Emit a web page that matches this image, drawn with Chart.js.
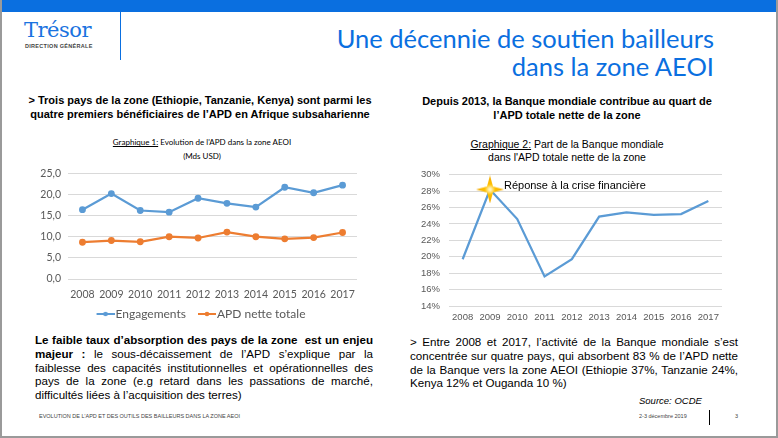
<!DOCTYPE html>
<html lang="fr">
<head>
<meta charset="utf-8">
<script src="https://cdn.jsdelivr.net/npm/chart.js@4.4.1/dist/chart.umd.min.js"></script>
<style>
  html, body { margin: 0; padding: 0; background: #ffffff; }
  #slide { position: relative; width: 778px; height: 438px; overflow: hidden; background: #fff;
           box-sizing: border-box; border: 2px solid #9a9a9a; border-top: none; font-family: "Liberation Sans", Arial, sans-serif; }
  .abs { position: absolute; }
  #topbar { left: 0; top: 0; width: 778px; height: 12px; background: #0a6fe0; }
  #logo { left: 22px; top: 18px; font-family: "DejaVu Serif", serif; font-size: 21px; color: #1a73e0; letter-spacing: -0.5px; }
  #logoSub { left: 23px; top: 43px; font-size: 5.5px; font-weight: bold; color: #444; letter-spacing: 0.3px; }
  #logoLine { left: 118px; top: 12px; width: 1px; height: 48px; background: #0a6fe0; }
  #title { right: 62px; top: 24px; font-family: Lato, sans-serif; font-size: 25.5px; line-height: 28px; color: #0a6fe0; text-align: right; }
  .head { font-weight: bold; font-size: 11px; line-height: 14px; text-align: center; color: #000; }
  .cap { font-size: 10.5px; line-height: 12.5px; text-align: center; color: #000; }
  .cap u { text-decoration: underline; }
  .body { font-size: 11.6px; line-height: 13.8px; text-align: justify; color: #000; }
  .tiny { font-size: 5.5px; color: #444; }
  canvas { position: absolute; }
</style>
</head>
<body>
<div id="slide">
  <div id="topbar" class="abs"></div>
  <div id="logo" class="abs">Trésor</div>
  <div id="logoSub" class="abs">DIRECTION GÉNÉRALE</div>
  <div id="logoLine" class="abs"></div>
  <div id="title" class="abs">Une décennie de soutien bailleurs<br>dans la zone AEOI</div>

  <div class="abs head" style="left:16px; top:93px; width:364px;">&gt; Trois pays de la zone (Ethiopie, Tanzanie, Kenya) sont parmi les<br>quatre premiers bénéficiaires de l’APD en Afrique subsaharienne</div>
  <div class="abs cap" style="left:18px; top:135px; width:364px; font-family: Lato, sans-serif; font-size:8px; line-height:14px;"><u>Graphique 1:</u> Evolution de l'APD dans la zone AEOI<br>(Mds USD)</div>

  <div class="abs head" style="left:388px; top:94px; width:354px;">Depuis 2013, la Banque mondiale contribue au quart de<br>l’APD totale nette de la zone</div>
  <div class="abs cap" style="left:388px; top:138px; width:354px;"><u>Graphique 2:</u> Part de la Banque mondiale<br>dans l'APD totale nette de la zone</div>

  <canvas id="chart1" width="350" height="170" style="left:20px; top:160px;"></canvas>
  <canvas id="chart2" width="340" height="170" style="left:400px; top:160px;"></canvas>

  <div class="abs body" style="left:33px; top:333px; width:338px;"><b>Le faible taux d’absorption des pays de la zone&nbsp; est un enjeu majeur :</b> le sous-décaissement de l’APD s’explique par la faiblesse des capacités institutionnelles et opérationnelles des pays de la zone (e.g retard dans les passations de marché, difficultés liées à l’acquisition des terres)</div>
  <div class="abs body" style="left:408px; top:335px; width:328px;">&gt; Entre 2008 et 2017, l’activité de la Banque mondiale s’est concentrée sur quatre pays, qui absorbent 83 % de l’APD nette de la Banque vers la zone AEOI (Ethiopie 37%, Tanzanie 24%, Kenya 12% et Ouganda 10 %)</div>
  <div class="abs" style="left:637px; top:395px; font-size:9.5px; font-style:italic;">Source: OCDE</div>

  <div class="abs tiny" style="left:37px; top:413px;">EVOLUTION DE L’APD ET DES OUTILS DES BAILLEURS DANS LA ZONE AEOI</div>
  <div class="abs tiny" style="left:637px; top:413px;">2-3 décembre 2019</div>
  <div class="abs" style="left:707px; top:410px; width:1px; height:15px; background:#000;"></div>
  <div class="abs tiny" style="left:733px; top:413px;">3</div>
</div>

<script>
// Donnees du graphique 1 (Mds USD)
const years = ["2008", "2009", "2010", "2011", "2012", "2013", "2014", "2015", "2016", "2017"];
const engagements = [16.4, 20.2, 16.2, 15.8, 19.1, 17.9, 17.0, 21.7, 20.4, 22.2];
const apdNette = [8.7, 9.1, 8.8, 10.0, 9.7, 11.1, 10.0, 9.5, 9.8, 11.0];

// Donnees du graphique 2 (% de l'APD totale nette)
const partBanque = [19.7, 28.2, 24.6, 17.6, 19.7, 24.9, 25.4, 25.1, 25.2, 26.8];
const crisisYear = "2009";
const crisisLabel = "Réponse à la crise financière";

const BLUE = "#5b9bd5";
const ORANGE = "#ed7d31";
const GRID = "#d9d9d9";
const TICK = "#595959";

// Symbole de legende: trait avec un point au milieu
// (dessine a droite de l'image pour coller le texte au symbole)
function legendSymbol(color) {
    const c = document.createElement("canvas");
    c.width = 28; c.height = 6;
    const ctx = c.getContext("2d");
    ctx.strokeStyle = color; ctx.lineWidth = 2;
    ctx.beginPath(); ctx.moveTo(10, 3); ctx.lineTo(28, 3); ctx.stroke();
    ctx.fillStyle = color;
    ctx.beginPath(); ctx.arc(19, 3, 2.3, 0, Math.PI * 2); ctx.fill();
    return c;
}

// Etoile a quatre branches pour l'annotation
function starSymbol() {
    const c = document.createElement("canvas");
    c.width = 28; c.height = 28;
    const ctx = c.getContext("2d");
    const g = ctx.createRadialGradient(14, 14, 1, 14, 14, 13);
    g.addColorStop(0, "#fff5c0");
    g.addColorStop(0.35, "#ffc000");
    g.addColorStop(1, "#f2a900");
    ctx.fillStyle = g;
    ctx.beginPath();
    const pts = [[14, 0], [17, 11], [28, 14], [17, 17], [14, 28], [11, 17], [0, 14], [11, 11]];
    pts.forEach((p, i) => i ? ctx.lineTo(p[0], p[1]) : ctx.moveTo(p[0], p[1]));
    ctx.closePath(); ctx.fill();
    return c;
}

const commaFmt = v => v.toFixed(1).replace(".", ",");

new Chart(document.getElementById("chart1"), {
    type: "line",
    data: {
        labels: years,
        datasets: [
            { label: "Engagements", data: engagements, borderColor: BLUE, backgroundColor: BLUE,
              borderWidth: 2.25, pointRadius: 2.3, pointHoverRadius: 2.3, pointStyle: "circle", tension: 0 },
            { label: "APD nette totale", data: apdNette, borderColor: ORANGE, backgroundColor: ORANGE,
              borderWidth: 2.25, pointRadius: 2.3, pointHoverRadius: 2.3, pointStyle: "circle", tension: 0 }
        ]
    },
    options: {
        responsive: false, animation: false,
        layout: { padding: { top: 8, right: 15, left: 18, bottom: 0 } },
        plugins: {
            tooltip: { enabled: false },
            legend: {
                position: "bottom",
                labels: {
                    usePointStyle: true, pointStyleWidth: 18, boxHeight: 6, color: TICK, padding: 7,
                    font: { family: "Lato", size: 12 },
                    generateLabels: chart => chart.data.datasets.map((ds, i) => ({
                        text: ds.label, pointStyle: legendSymbol(ds.borderColor), fontColor: TICK,
                        strokeStyle: ds.borderColor, fillStyle: ds.borderColor, lineWidth: 0, datasetIndex: i
                    }))
                }
            }
        },
        scales: {
            x: {
                offset: true,
                grid: { display: false, drawTicks: false, tickLength: 0 },
                border: { display: false },
                ticks: { color: TICK, font: { family: "Lato", size: 10.5 }, padding: 9,
                         maxRotation: 0, autoSkip: false },
                afterFit: s => { s.height = 22; }
            },
            y: {
                min: 0, max: 25,
                grid: { color: GRID, drawTicks: false },
                border: { display: false },
                ticks: { stepSize: 5, color: TICK, font: { family: "Lato", size: 10.5 }, padding: 7,
                         callback: v => commaFmt(v) },
                afterFit: s => { s.width = 28; }
            }
        }
    }
});

// Texte de l'annotation a cote de l'etoile
const crisisText = {
    id: "crisisText",
    afterDatasetsDraw(chart) {
        const x = chart.scales.x.getPixelForValue(years.indexOf(crisisYear));
        const y = chart.scales.y.getPixelForValue(partBanque[years.indexOf(crisisYear)]);
        const ctx = chart.ctx;
        ctx.save();
        ctx.font = "11px 'Liberation Sans', Arial";
        ctx.fillStyle = "#000";
        ctx.textBaseline = "middle";
        ctx.fillText(crisisLabel, x + 14, y - 4);
        ctx.restore();
    }
};

new Chart(document.getElementById("chart2"), {
    type: "line",
    data: {
        labels: years,
        datasets: [
            { data: years.map((y, i) => y === crisisYear ? partBanque[i] : null),
              pointStyle: starSymbol(), pointRadius: 14, showLine: false, borderWidth: 0 },
            { data: partBanque, borderColor: BLUE, borderWidth: 2.25, pointRadius: 0, tension: 0 }
        ]
    },
    plugins: [crisisText],
    options: {
        responsive: false, animation: false,
        layout: { padding: { top: 10, right: 20, left: 0, bottom: 0 } },
        plugins: { legend: { display: false }, tooltip: { enabled: false } },
        scales: {
            x: {
                offset: true,
                grid: { display: false, drawTicks: false, tickLength: 0 },
                border: { display: false },
                ticks: { color: TICK, font: { family: "Liberation Sans", size: 9.5 }, padding: 6,
                         maxRotation: 0, autoSkip: false },
                afterFit: s => { s.height = 24; }
            },
            y: {
                min: 14, max: 30,
                grid: { color: GRID, drawTicks: false },
                border: { display: false },
                ticks: { stepSize: 2, color: TICK, font: { family: "Liberation Sans", size: 9.5 }, padding: 9,
                         callback: v => v + "%" },
                afterFit: s => { s.width = 47; }
            }
        }
    }
});
</script>
</body>
</html>
